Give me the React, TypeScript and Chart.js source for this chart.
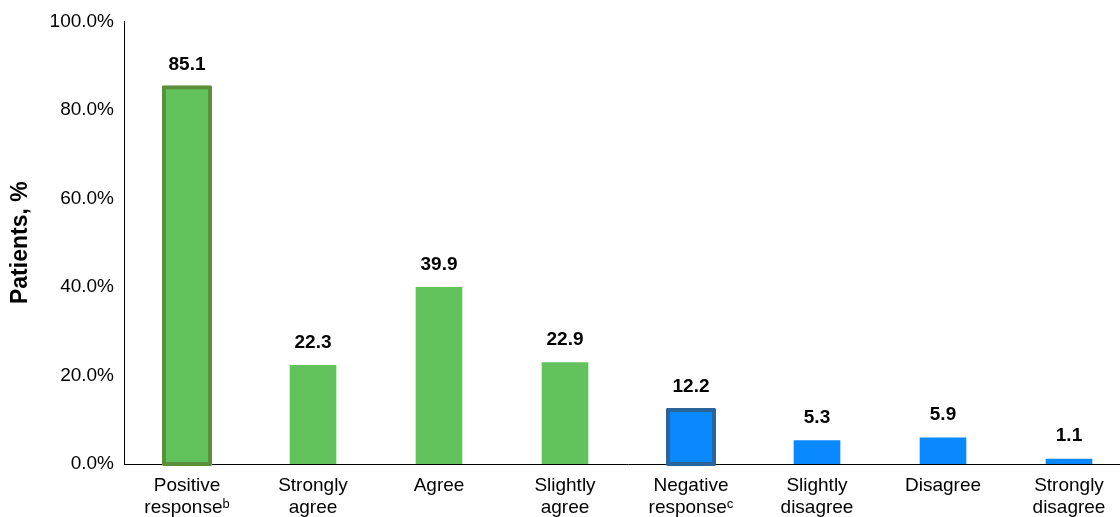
import React, { useEffect, useRef } from "react";
import { Chart, registerables } from "chart.js";

Chart.register(...registerables);

const categories: string[][] = [
  ["Positive", "response\u1D47"],
  ["Strongly", "agree"],
  ["Agree"],
  ["Slightly", "agree"],
  ["Negative", "response\u1D9C"],
  ["Slightly", "disagree"],
  ["Disagree"],
  ["Strongly", "disagree"],
];
const plainValues: (number | null)[] = [null, 22.3, 39.9, 22.9, null, 5.3, 5.9, 1.1];
const summaryValues: (number | null)[] = [85.1, null, null, null, 12.2, null, null, null];
const yTicks: number[] = [0, 20, 40, 60, 80, 100];

const GREEN = "#62C25B";
const GREEN_DARK = "#5C8F3C";
const BLUE = "#0A89FE";
const BLUE_DARK = "#2B649A";

const plainColors = [GREEN, GREEN, GREEN, GREEN, BLUE, BLUE, BLUE, BLUE];
const borderColors = [GREEN_DARK, GREEN_DARK, GREEN_DARK, GREEN_DARK, BLUE_DARK, BLUE_DARK, BLUE_DARK, BLUE_DARK];

const FONT = "'Liberation Sans', Arial, Helvetica, sans-serif";

const valueLabels = {
  id: "valueLabels",
  afterDatasetsDraw(chart: any) {
    const ctx = chart.ctx;
    ctx.save();
    ctx.font = `bold 19px ${FONT}`;
    ctx.fillStyle = "#000";
    ctx.textAlign = "center";
    ctx.textBaseline = "middle";
    chart.data.datasets.forEach((ds: any, di: number) => {
      const meta = chart.getDatasetMeta(di);
      meta.data.forEach((el: any, i: number) => {
        const v = ds.data[i];
        if (v === null || v === undefined) return;
        ctx.fillText(v.toFixed(1), el.x, el.y - 23);
      });
    });
    ctx.restore();
  },
};

export default function App() {
  const ref = useRef<HTMLCanvasElement | null>(null);
  useEffect(() => {
    document.body.style.margin = "0";
    const canvas = ref.current!;
    const chart = new Chart(canvas, {
      type: "bar",
      data: {
        labels: categories,
        datasets: [
          {
            data: plainValues,
            backgroundColor: plainColors,
            borderWidth: 0,
            barThickness: 46,
            grouped: false,
          } as any,
          {
            data: summaryValues,
            backgroundColor: plainColors,
            borderColor: borderColors,
            borderWidth: 4,
            borderSkipped: false,
            borderRadius: 1,
            inflateAmount: 2,
            barThickness: 46,
            grouped: false,
            clip: false,
          } as any,
        ],
      },
      options: {
        responsive: false,
        animation: false,
        devicePixelRatio: 1,
        layout: { padding: { top: 19, left: 0, right: 0, bottom: 0 } },
        plugins: {
          legend: { display: false },
          tooltip: { enabled: false },
        },
        scales: {
          x: {
            grid: { display: false, drawTicks: false },
            border: { display: true, color: "#000", width: 1 },
            ticks: {
              color: "#000",
              font: { family: FONT, size: 19, lineHeight: 1.2 },
              padding: 10,
              maxRotation: 0,
              autoSkip: false,
            },
            afterFit(scale: any) {
              scale.height = 53;
            },
          },
          y: {
            min: 0,
            max: 100,
            afterBuildTicks(scale: any) {
              scale.ticks = yTicks.map((v) => ({ value: v }));
            },
            grid: { display: false, drawTicks: false },
            border: { display: true, color: "#000", width: 1 },
            ticks: {
              color: "#000",
              font: { family: FONT, size: 19 },
              padding: 10,
              callback: (v: any) => Number(v).toFixed(1) + "%",
            },
            title: {
              display: true,
              text: "Patients, %",
              color: "#000",
              font: { family: FONT, size: 23, weight: "bold" },
              padding: { top: 7, bottom: 0 },
            },
            afterFit(scale: any) {
              scale.width = 124;
            },
          },
        },
      },
      plugins: [valueLabels],
    });
    return () => chart.destroy();
  }, []);
  return (
    <div style={{ width: 1120, height: 517, overflow: "hidden", position: "relative" }}>
      <canvas ref={ref} width={1132} height={517} style={{ display: "block" }} />
    </div>
  );
}
